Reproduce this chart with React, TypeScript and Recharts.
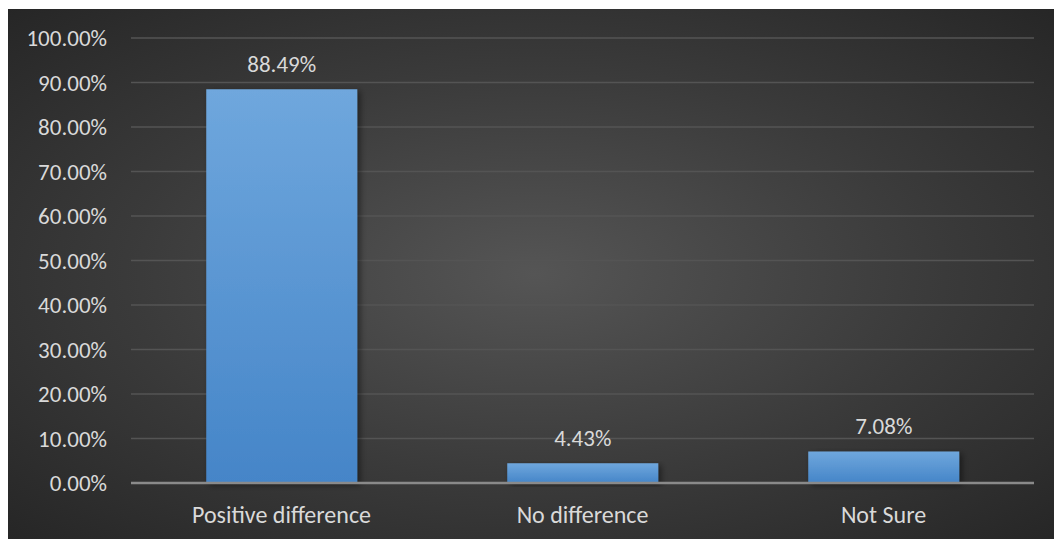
import React from "react";
import { BarChart, Bar, XAxis, YAxis, CartesianGrid, LabelList } from "recharts";

const categories = ["Positive difference", "No difference", "Not Sure"];
const shares = [88.49, 4.43, 7.08];
const yTicks = [0, 10, 20, 30, 40, 50, 60, 70, 80, 90, 100];

const data = categories.map((name, i) => ({ name, value: shares[i] }));

const font = "Carlito, Calibri, 'Open Sans', sans-serif";

export default function App() {
  return (
    <div
      style={{
        width: 1055,
        height: 530,
        marginLeft: -1,
        marginTop: 1,
        background: "radial-gradient(ellipse at 50% 50%, #555555 0%, #3a3a3a 55%, #262626 100%)",
        fontFamily: font,
      }}
    >
      <BarChart
        width={1055}
        height={530}
        data={data}
        margin={{ top: 29, right: 28, left: 0, bottom: 0 }}
        barCategoryGap="25%"
      >
        <defs>
          <linearGradient id="barFill" x1="0" y1="0" x2="0" y2="1">
            <stop offset="0%" stopColor="#6fa7dd" />
            <stop offset="100%" stopColor="#4585c8" />
          </linearGradient>
          <filter id="barShadow" x="-10%" y="-10%" width="130%" height="130%">
            <feDropShadow dx="3" dy="2" stdDeviation="3" floodColor="#000" floodOpacity="0.45" />
          </filter>
        </defs>
        <CartesianGrid vertical={false} stroke="#545454" strokeWidth={1.5} />
        <XAxis
          dataKey="name"
          height={56}
          axisLine={{ stroke: "#8a8a8a", strokeWidth: 2.5 }}
          tickLine={false}
          tickMargin={17}
          tick={{ fill: "#d9d9d9", fontSize: 24, fontFamily: font }}
        />
        <YAxis
          width={124}
          domain={[0, 100]}
          ticks={yTicks}
          interval={0}
          axisLine={false}
          tickLine={false}
          tickSize={0}
          tickMargin={24}
          tickFormatter={(v: number) => `${v.toFixed(2)}%`}
          tick={{ fill: "#d9d9d9", fontSize: 23, fontFamily: font }}
        />
        <Bar dataKey="value" fill="url(#barFill)" filter="url(#barShadow)" isAnimationActive={false}>
          <LabelList
            dataKey="value"
            position="top"
            offset={17}
            formatter={(v: number) => `${v.toFixed(2)}%`}
            style={{ fill: "#d9d9d9", fontSize: 23, fontFamily: font }}
          />
        </Bar>
      </BarChart>
    </div>
  );
}
